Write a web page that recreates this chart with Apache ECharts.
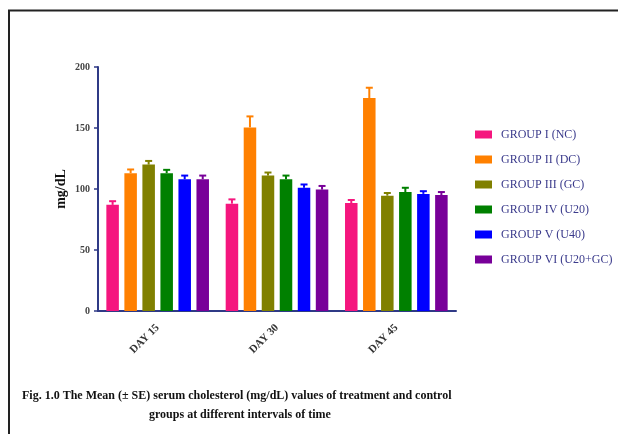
<!DOCTYPE html>
<html>
<head>
<meta charset="utf-8">
<script src="https://cdn.jsdelivr.net/npm/echarts@6/dist/echarts.min.js"></script>
<style>
  html, body { margin: 0; padding: 0; background: #fff; }
  #chart { width: 618px; height: 434px; }
</style>
</head>
<body>
<div id="chart"></div>
<script>
// 数据
var days = ['DAY 15', 'DAY 30', 'DAY 45'];
var groups = ['GROUP I (NC)', 'GROUP II (DC)', 'GROUP III (GC)', 'GROUP IV (U20)', 'GROUP V (U40)', 'GROUP VI (U20+GC)'];
var colors = ['#f5167e', '#ff8000', '#808000', '#008000', '#0000ff', '#780099'];

// 每组在三个时间点的均值
var meanNC = [87, 88, 88.5];
var meanDC = [113, 150.5, 174.5];
var meanGC = [120, 111, 94.5];
var meanU20 = [113, 108, 97.5];
var meanU40 = [108, 101, 96];
var meanU20GC = [108, 99.5, 95];
// 标准误
var seNC = [3, 3.5, 2.5];
var seDC = [3, 9, 8.5];
var seGC = [3, 2.5, 2.2];
var seU20 = [2.7, 3, 3.5];
var seU40 = [3, 2.7, 2.2];
var seU20GC = [3, 3, 2.5];

var yTicks = [0, 50, 100, 150, 200];

var means = [meanNC, meanDC, meanGC, meanU20, meanU40, meanU20GC];
var ses = [seNC, seDC, seGC, seU20, seU40, seU20GC];

var catGap = 0.14;  // barCategoryGap
var barGap = 0.44;  // barGap

var serif = '"Liberation Serif", "DejaVu Serif", serif';

var series = [];
groups.forEach(function (g, i) {
  series.push({
    name: g,
    type: 'bar',
    barCategoryGap: '14%',
    barGap: '44%',
    itemStyle: { color: colors[i] },
    data: means[i]
  });
});
// 误差线（只画向上的一半）
groups.forEach(function (g, i) {
  series.push({
    name: g,
    type: 'custom',
    z: 3,
    renderItem: function (params, api) {
      var cat = api.value(0);
      var top = api.value(1) + api.value(2);
      var base = api.coord([cat, api.value(1)]);
      var tip = api.coord([cat, top]);
      var band = api.size([1, 0])[0];
      var total = band * (1 - catGap);
      var bw = total / (6 + 5 * barGap);
      var x = base[0] - total / 2 + i * bw * (1 + barGap) + bw / 2;
      var style = { stroke: colors[i], lineWidth: 2 };
      return {
        type: 'group',
        children: [
          { type: 'line', shape: { x1: x, y1: base[1], x2: x, y2: tip[1] }, style: style },
          { type: 'line', shape: { x1: x - 3.5, y1: tip[1], x2: x + 3.5, y2: tip[1] }, style: style }
        ]
      };
    },
    data: days.map(function (d, k) { return [k, means[i][k], ses[i][k]]; })
  });
});

var myChart = echarts.init(document.getElementById('chart'));
myChart.setOption({
  animation: false,
  grid: { left: 98, right: 162, top: 67, bottom: 123 },
  legend: {
    orient: 'vertical',
    left: 470,
    top: 123,
    itemWidth: 17,
    itemHeight: 8,
    itemGap: 12,
    icon: 'rect',
    data: groups,
    textStyle: {
      color: '#3b3b8c',
      fontFamily: serif,
      fontSize: 12,
      lineHeight: 13,
      padding: [0, 0, 0, 4]
    }
  },
  xAxis: {
    type: 'category',
    data: days,
    axisLine: { lineStyle: { color: '#2f3a86', width: 2 } },
    axisTick: { alignWithLabel: true, length: 4, lineStyle: { color: '#2f3a86', width: 1.5 } },
    axisLabel: {
      rotate: 45,
      margin: 15,
      color: '#333',
      fontFamily: serif,
      fontWeight: 'bold',
      fontSize: 11
    }
  },
  yAxis: {
    type: 'value',
    min: yTicks[0],
    max: yTicks[yTicks.length - 1],
    interval: yTicks[1] - yTicks[0],
    name: 'mg/dL',
    nameLocation: 'middle',
    nameGap: 30,
    nameMoveOverlap: false,
    nameRotate: 90,
    nameTextStyle: { color: '#111', fontFamily: serif, fontWeight: 'bold', fontSize: 14 },
    axisLine: { show: true, lineStyle: { color: '#2f3a86', width: 2 } },
    axisTick: { show: true, length: 4, lineStyle: { color: '#2f3a86', width: 1.5 } },
    splitLine: { show: false },
    axisLabel: {
      margin: 8,
      color: '#444',
      fontFamily: serif,
      fontWeight: 'bold',
      fontSize: 10
    }
  },
  graphic: [
    { type: 'line', shape: { x1: 8, y1: 10.5, x2: 618, y2: 10.5 }, style: { stroke: '#222', lineWidth: 2 } },
    { type: 'line', shape: { x1: 9, y1: 10, x2: 9, y2: 434 }, style: { stroke: '#222', lineWidth: 2 } },
    {
      type: 'text', left: 22, top: 390,
      style: {
        text: 'Fig. 1.0 The Mean (\u00b1 SE) serum cholesterol (mg/dL) values of treatment and control',
        fill: '#111', font: 'bold 12px ' + serif
      }
    },
    {
      type: 'text', left: 149, top: 409,
      style: {
        text: 'groups at different intervals of time',
        fill: '#111', font: 'bold 12px ' + serif
      }
    }
  ],
  series: series
});
</script>
</body>
</html>
